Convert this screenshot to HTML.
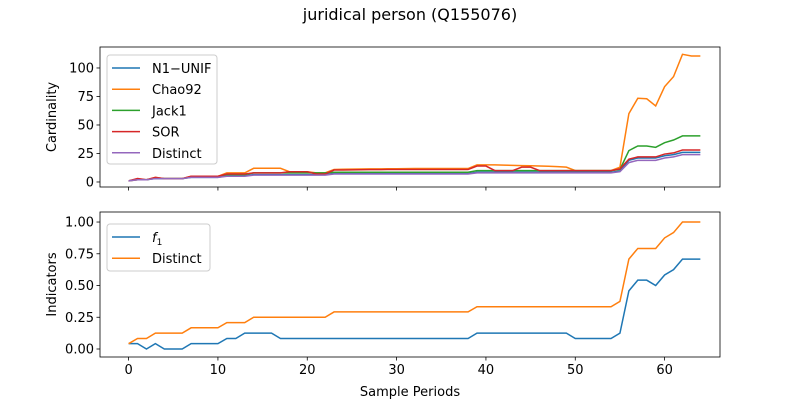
<!DOCTYPE html>
<html><head><meta charset="utf-8"><style>
body{margin:0;background:#fff}
svg text{font-family:"DejaVu Sans","Liberation Sans",sans-serif;fill:#000}
</style></head><body>
<svg id="chart" width="800" height="400" xmlns="http://www.w3.org/2000/svg">
<text x="410" y="20" font-size="16" text-anchor="middle">juridical person (Q155076)</text>
<g id="top"></g><g id="bot"></g>
</svg>
<script>
const periods = Array.from({length:65},(_, i)=>i);
const distinct = [1,2,2,3,3,3,3,4,4,4,4,5,5,5,6,6,6,6,6,6,6,6,6,7,7,7,7,7,7,7,7,7,7,7,7,7,7,7,7,8,8,8,8,8,8,8,8,8,8,8,8,8,8,8,8,9,17,19,19,19,21,22,24,24,24];
const n1unif = [1,2,2,3,3,3,3,4,4,4,4,5.5,5.5,5.5,6.5,6.5,6.5,6.5,6.5,6.5,6.5,6.5,6.5,7.5,7.5,7.5,7.5,7.5,7.5,7.5,7.5,7.5,7.5,7.5,7.5,7.5,7.5,7.5,7.5,8.5,8.5,8.5,8.5,8.5,8.5,8.5,8.5,8.5,8.5,8.5,8.5,8.5,8.5,8.5,8.5,9.5,19,21,21,21,23,24,26,26,26];
const chao92 = [1,2,2,4,3,3,3,5,5,5,5,8,8,8,12,12,12,12,9,9,9,8,8,11,11.2,11.3,11.4,11.5,11.5,11.6,11.6,11.7,11.8,11.8,11.8,11.8,11.8,11.8,11.8,15,15,15,14.8,14.6,14.4,14.2,14,13.8,13.5,13,10,10,10,10,10,13,60,73.4,73,66.7,83.6,92.4,112,110.5,110.5];
const jack1 = [1,2.5,2,3.5,3,3,3,4.5,4.5,4.5,4.5,6.5,6.5,6.5,8,8,8,8,8,8,8,8,8,8.5,8.5,8.5,8.5,8.5,8.5,8.5,8.5,8.5,8.5,8.5,8.5,8.5,8.5,8.5,8.5,10,10,10,10,10,10,10,10,10,10,10,10,10,10,10,10,11,27.5,31.6,31.6,30.4,34.5,36.8,40.4,40.4,40.4];
const sor = [1,3,2,4,3,3,3,5,5,5,5,7,7,7,8,8,8,8,9,9,9,7,7,10.5,10.5,10.6,10.7,10.8,10.8,10.9,10.9,11,11,11,11,11,11,11,11,14,14,10,10,10,13,13,10,10,10,10,10,10,10,10,10,11.5,20,22,22,22,24.5,25.5,28,28,28];
const f1 = [0.042,0.042,0,0.042,0,0,0,0.042,0.042,0.042,0.042,0.083,0.083,0.125,0.125,0.125,0.125,0.083,0.083,0.083,0.083,0.083,0.083,0.083,0.083,0.083,0.083,0.083,0.083,0.083,0.083,0.083,0.083,0.083,0.083,0.083,0.083,0.083,0.083,0.125,0.125,0.125,0.125,0.125,0.125,0.125,0.125,0.125,0.125,0.125,0.083,0.083,0.083,0.083,0.083,0.125,0.458,0.542,0.542,0.5,0.583,0.625,0.708,0.708,0.708];
const distinctRatio = [0.042,0.083,0.083,0.125,0.125,0.125,0.125,0.167,0.167,0.167,0.167,0.208,0.208,0.208,0.25,0.25,0.25,0.25,0.25,0.25,0.25,0.25,0.25,0.292,0.292,0.292,0.292,0.292,0.292,0.292,0.292,0.292,0.292,0.292,0.292,0.292,0.292,0.292,0.292,0.333,0.333,0.333,0.333,0.333,0.333,0.333,0.333,0.333,0.333,0.333,0.333,0.333,0.333,0.333,0.333,0.375,0.708,0.792,0.792,0.792,0.875,0.917,1,1,1];
const topTicks = [0,25,50,75,100];
const botTicks = ["0.00","0.25","0.50","0.75","1.00"];
const xTicks = [0,10,20,30,40,50,60];

const NS="http://www.w3.org/2000/svg";
function mk(parent,tag,attrs){const e=document.createElementNS(NS,tag);for(const k in attrs)e.setAttribute(k,attrs[k]);parent.appendChild(e);return e;}
const X0=100,X1=720, xmin=-3.2, xmax=66.2;
const xs=v=>X0+(v-xmin)/(xmax-xmin)*(X1-X0);

function axes(g,Y0,Y1,ymin,ymax,ticks,ylabel,showX,series,legend){
  const ys=v=>Y1-(v-ymin)/(ymax-ymin)*(Y1-Y0);
  series.forEach(s=>{
    const p=mk(g,'polyline',{points:s.data.map((v,i)=>xs(periods[i])+','+ys(v)).join(' '),fill:'none',stroke:s.color,'stroke-width':1.5});
    
    
  });
  const r=mk(g,'rect',{x:X0,y:Y0,width:X1-X0,height:Y1-Y0,fill:'none',stroke:'#000','stroke-width':0.8});
  
  ticks.forEach(t=>{
    const v=parseFloat(t),y=ys(v);
    mk(g,'line',{x1:X0-3.5,x2:X0,y1:y,y2:y,stroke:'#000','stroke-width':0.8});
    const tx=mk(g,'text',{x:X0-6,y:y+4.5,'font-size':13,'text-anchor':'end'});tx.textContent=t;
    
  });
  xTicks.forEach(t=>{
    const x=xs(t);
    mk(g,'line',{x1:x,x2:x,y1:Y1,y2:Y1+3.5,stroke:'#000','stroke-width':0.8});
    if(showX){const tx=mk(g,'text',{x:x,y:Y1+17,'font-size':13,'text-anchor':'middle'});tx.textContent=t;
      }
  });
  const yl=mk(g,'text',{x:0,y:0,'font-size':13,'text-anchor':'middle',transform:`translate(56,${(Y0+Y1)/2}) rotate(-90)`});
  yl.textContent=ylabel;
  const lg=mk(g,'g',{});
  mk(lg,'rect',{x:legend.x,y:legend.y,width:legend.w,height:legend.h,rx:3,fill:'#fff','fill-opacity':0.8,stroke:'#ccc'});
  series.forEach((s,i)=>{
    const cy=legend.y+13+i*21.2;
    mk(lg,'line',{x1:legend.x+5,x2:legend.x+33,y1:cy,y2:cy,stroke:s.color,'stroke-width':1.5});
    const tx=mk(lg,'text',{x:legend.x+45,y:cy+5,'font-size':13});
    if(s.label==='f1'){tx.innerHTML='<tspan font-style="italic">f</tspan><tspan font-size="9" dy="3">1</tspan>';}
    else tx.textContent=s.label;
    
  });
}
axes(document.getElementById('top'),47,187,-4.4,118.4,topTicks,'Cardinality',false,[
 {name:'n1-unif',label:'N1\u2212UNIF',data:n1unif,color:'#1f77b4'},
 {name:'chao92',label:'Chao92',data:chao92,color:'#ff7f0e'},
 {name:'jack1',label:'Jack1',data:jack1,color:'#2ca02c'},
 {name:'sor',label:'SOR',data:sor,color:'#d62728'},
 {name:'distinct',label:'Distinct',data:distinct,color:'#9467bd'}],{x:107,y:55,w:110,h:109});
axes(document.getElementById('bot'),212,357,-0.063,1.079,botTicks,'Indicators',true,[
 {name:'f1',label:'f1',data:f1,color:'#1f77b4'},
 {name:'distinct-ratio',label:'Distinct',data:distinctRatio,color:'#ff7f0e'}],{x:107,y:224,w:103,h:47});
const xl=mk(document.getElementById('chart'),'text',{x:410,y:396,'font-size':13,'text-anchor':'middle'});
xl.textContent='Sample Periods';


</script>
</body></html>
